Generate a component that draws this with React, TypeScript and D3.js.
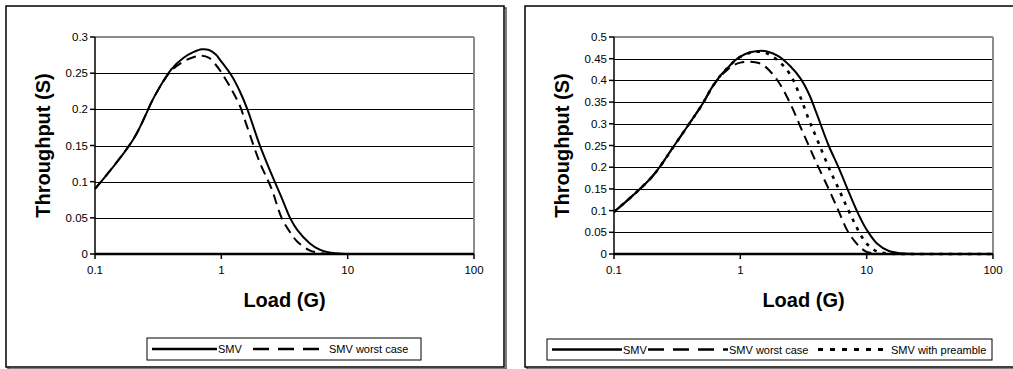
import * as d3 from "d3";

// load values (G) where the curves were read
const loads = [0.1, 0.2, 0.3, 0.4, 0.5, 0.6, 0.7, 0.8, 0.9, 1, 1.2, 1.4, 1.6, 2, 2.5, 3, 3.5, 4, 5, 6, 7, 8, 9, 10, 12, 15, 20, 30, 50, 100];

// left chart
const leftSmv = [0.09, 0.158, 0.22, 0.255, 0.271, 0.279, 0.283, 0.282, 0.276, 0.266, 0.247, 0.225, 0.201, 0.152, 0.11, 0.078, 0.05, 0.033, 0.015, 0.006, 0.0025, 0.001, 0.0003, 0.0001, 0, 0, 0, 0, 0, 0];
const leftWorst = [0.09, 0.158, 0.22, 0.253, 0.266, 0.272, 0.274, 0.271, 0.262, 0.251, 0.228, 0.205, 0.176, 0.128, 0.09, 0.05, 0.03, 0.017, 0.005, 0.0015, 0.0004, 0.0001, 0, 0, 0, 0, 0, 0, 0, 0];

// right chart
const rightSmv = [0.097, 0.178, 0.25, 0.303, 0.345, 0.385, 0.412, 0.43, 0.445, 0.455, 0.465, 0.468, 0.467, 0.456, 0.432, 0.404, 0.368, 0.325, 0.25, 0.199, 0.152, 0.112, 0.08, 0.056, 0.025, 0.007, 0.001, 0, 0, 0];
const rightWorst = [0.097, 0.178, 0.25, 0.303, 0.345, 0.385, 0.41, 0.426, 0.436, 0.441, 0.443, 0.44, 0.43, 0.397, 0.345, 0.292, 0.248, 0.21, 0.15, 0.099, 0.055, 0.03, 0.014, 0.005, 0.001, 0, 0, 0, 0, 0];
const rightPreamble = [0.097, 0.178, 0.25, 0.303, 0.345, 0.385, 0.412, 0.43, 0.445, 0.454, 0.464, 0.466, 0.463, 0.445, 0.412, 0.36, 0.308, 0.268, 0.2, 0.15, 0.107, 0.072, 0.043, 0.024, 0.006, 0.001, 0, 0, 0, 0];

const xTicks = [0.1, 1, 10, 100];
const xTickLabels = ["0.1", "1", "10", "100"];
const leftYTicks = [0, 0.05, 0.1, 0.15, 0.2, 0.25, 0.3];
const rightYTicks = [0, 0.05, 0.1, 0.15, 0.2, 0.25, 0.3, 0.35, 0.4, 0.45, 0.5];

const FONT = "'Liberation Sans', Arial, Helvetica, sans-serif";

type Series = { name: string; values: number[]; dash: string; width: number; legendDash: string };
type LegendItem = { s0: number; s1: number; tx: number };

const solid = (values: number[]): Series => ({ name: "SMV", values, dash: "none", width: 2, legendDash: "none" });
const dashed = (values: number[]): Series => ({ name: "SMV worst case", values, dash: "10,6", width: 2, legendDash: "16,9" });
const dotted = (values: number[]): Series => ({ name: "SMV with preamble", values, dash: "3.5,6", width: 2.6, legendDash: "5,7" });

function Panel(props: {
  box: [number, number, number, number];
  plot: [number, number, number, number];
  yMax: number;
  yTicks: number[];
  series: Series[];
  legendBox: [number, number, number, number];
  legendItems: LegendItem[];
}) {
  const { box, plot, yMax, yTicks, series, legendBox, legendItems } = props;
  const [px0, py0, px1, py1] = plot;
  const x = d3.scaleLog().domain([0.1, 100]).range([px0, px1]);
  const y = d3.scaleLinear().domain([0, yMax]).range([py1, py0]);
  const line = d3
    .line<number>()
    .x((_, i) => x(loads[i]))
    .y((d) => Math.min(y(d), py1))
    .curve(d3.curveCatmullRom.alpha(0.5));
  const [bx, by, bw, bh] = box;
  const [lx, ly, lw, lh] = legendBox;
  const cy = ly + lh / 2;

  return (
    <g>
      {/* chart area with shadow */}
      <rect x={bx + 2} y={by + 2} width={bw} height={bh} fill="none" stroke="#555" strokeWidth={1.5} />
      <rect x={bx} y={by} width={bw} height={bh} fill="#fff" stroke="#000" strokeWidth={1.5} />

      {/* grid */}
      {yTicks
        .filter((t) => t > 0 && t < yMax)
        .map((t) => (
          <line key={t} x1={px0} x2={px1} y1={Math.round(y(t)) + 0.5} y2={Math.round(y(t)) + 0.5} stroke="#000" strokeWidth={1} />
        ))}
      <line x1={px0} x2={px1} y1={py0} y2={py0} stroke="#8c8c8c" strokeWidth={2} />
      <line x1={px1} x2={px1} y1={py0} y2={py1} stroke="#8c8c8c" strokeWidth={2} />

      {/* axes */}
      <line x1={px0} x2={px0} y1={py0} y2={py1} stroke="#000" strokeWidth={1.5} />
      {yTicks.map((t) => (
        <g key={t}>
          <line x1={px0 - 5} x2={px0} y1={y(t)} y2={y(t)} stroke="#000" strokeWidth={1.5} />
          <text x={px0 - 7} y={y(t) + 4} textAnchor="end" fontSize={11.5} fontFamily={FONT}>
            {String(t)}
          </text>
        </g>
      ))}
      {xTicks.map((t, i) => (
        <g key={t}>
          <line x1={x(t)} x2={x(t)} y1={py1} y2={py1 + 5} stroke="#000" strokeWidth={1.5} />
          <text x={x(t)} y={py1 + 20} textAnchor="middle" fontSize={11.5} fontFamily={FONT}>
            {xTickLabels[i]}
          </text>
        </g>
      ))}

      {/* curves */}
      {series.map((s) => (
        <path key={s.name} d={line(s.values) ?? ""} fill="none" stroke="#000" strokeWidth={s.width} strokeDasharray={s.dash} />
      ))}
      <line x1={px0} x2={px1} y1={py1} y2={py1} stroke="#000" strokeWidth={2.5} />

      {/* titles */}
      <text
        transform={`translate(${px0 - 45},${(py0 + py1) / 2}) rotate(-90)`}
        textAnchor="middle"
        fontSize={20}
        fontWeight="bold"
        fontFamily={FONT}
      >
        Throughput (S)
      </text>
      <text x={(px0 + px1) / 2} y={py1 + 53} textAnchor="middle" fontSize={20} fontWeight="bold" fontFamily={FONT}>
        Load (G)
      </text>

      {/* legend */}
      <rect x={lx} y={ly} width={lw} height={lh} fill="#fff" stroke="#000" strokeWidth={1} />
      {series.map((s, i) => (
        <g key={s.name}>
          <line x1={legendItems[i].s0} x2={legendItems[i].s1} y1={cy} y2={cy} stroke="#000" strokeWidth={s.width + 0.4} strokeDasharray={s.legendDash} />
          <text x={legendItems[i].tx} y={cy + 4} fontSize={11} fontFamily={FONT}>
            {s.name}
          </text>
        </g>
      ))}
    </g>
  );
}

export default function App() {
  return (
    <svg width={1013} height={369} style={{ position: "absolute", left: 0, top: 0, background: "#fff" }}>
      <Panel
        box={[6, 6, 498, 361]}
        plot={[95, 37, 474, 254]}
        yMax={0.3}
        yTicks={leftYTicks}
        series={[solid(leftSmv), dashed(leftWorst)]}
        legendBox={[147, 338, 274, 22]}
        legendItems={[
          { s0: 152, s1: 217, tx: 218 },
          { s0: 253, s1: 328, tx: 329 },
        ]}
      />
      <Panel
        box={[525, 6, 500, 361]}
        plot={[614, 37, 993, 254]}
        yMax={0.5}
        yTicks={rightYTicks}
        series={[solid(rightSmv), dashed(rightWorst), dotted(rightPreamble)]}
        legendBox={[547, 339, 445, 21]}
        legendItems={[
          { s0: 552, s1: 622, tx: 623 },
          { s0: 648, s1: 728, tx: 729 },
          { s0: 818, s1: 886, tx: 891 },
        ]}
      />
    </svg>
  );
}
